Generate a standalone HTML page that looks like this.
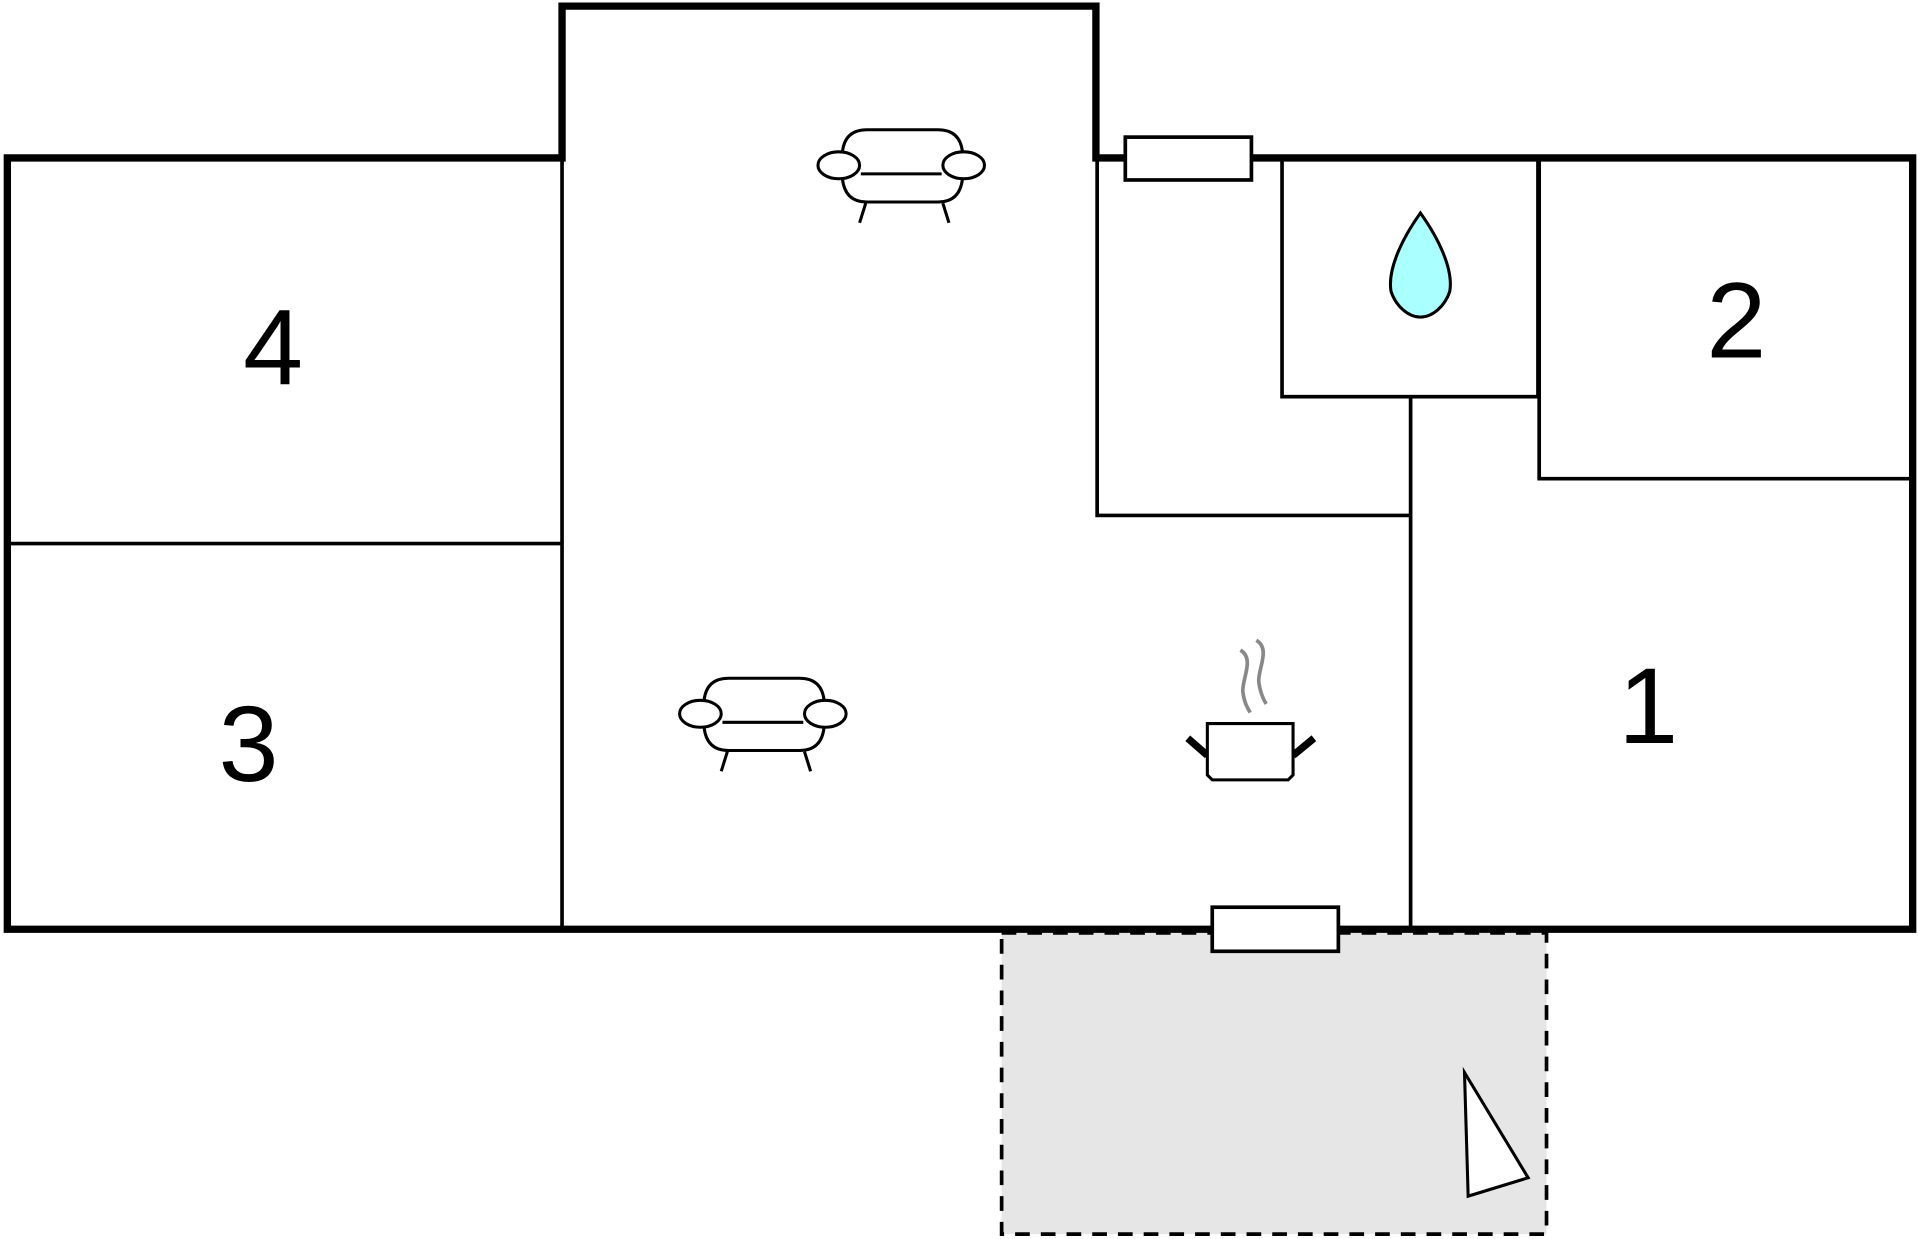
<!DOCTYPE html>
<html><head><meta charset="utf-8"><style>
html,body{margin:0;padding:0;background:#fff;width:1920px;height:1239px;overflow:hidden}
svg{display:block}
text{font-family:"Liberation Sans",Arial,sans-serif;font-size:88px;fill:#000}
</style></head><body>
<svg width="1920" height="1239" viewBox="0 0 1568 1012" preserveAspectRatio="none">
<rect x="0" y="0" width="1568" height="1012" fill="#fff"/>
<rect x="818" y="762" width="445" height="246" fill="#e6e6e6" stroke="#000" stroke-width="3" stroke-dasharray="12,9"/>
<g stroke="#000" stroke-width="3" fill="none">
<line x1="459" y1="129" x2="459" y2="759"/>
<line x1="6" y1="444" x2="459" y2="444"/>
<polyline points="896,129 896,421 1151,421"/>
<line x1="1152" y1="324" x2="1152" y2="759"/>
<rect x="1047" y="129" width="209" height="195"/>
<polyline points="1257,129 1257,391 1562,391"/>
</g>
<path d="M6,129 H459 V5 H895 V129 H919 M1022,129 H1562 V759 H6 V129" stroke="#000" stroke-width="6" fill="none" stroke-linecap="square"/>
<rect x="919" y="112" width="103" height="35" fill="#fff" stroke="#000" stroke-width="3"/>
<rect x="990" y="741" width="103" height="36" fill="#fff" stroke="#000" stroke-width="3"/>
<text x="223" y="314" text-anchor="middle">4</text>
<text x="203" y="638" text-anchor="middle">3</text>
<text x="1418" y="292" text-anchor="middle">2</text>
<text x="1346" y="607" text-anchor="middle">1</text>
<defs>
<g id="sofa" stroke="#000" stroke-width="2.5" fill="#fff">
<path d="M688,135 V124 Q690,106 708,106 H766 Q784,106 786,124 V146 Q784,165 766,165 H708 Q690,165 688,146 Z"/>
<line x1="703" y1="142" x2="769" y2="142"/>
<ellipse cx="685" cy="135" rx="17" ry="11"/>
<ellipse cx="787" cy="135" rx="17" ry="11"/>
<line x1="707" y1="166" x2="702" y2="182"/>
<line x1="770" y1="166" x2="775" y2="182"/>
</g>
</defs>
<use href="#sofa"/>
<use href="#sofa" transform="translate(-113,448)"/>
<path d="M1160,174 C1145,195 1133,220 1136,238 C1140,250 1150,259 1160,259 C1170,259 1180,250 1184,238 C1187,220 1175,195 1160,174 Z" fill="#aaffff" stroke="#000" stroke-width="2.5"/>
<g stroke="#000">
<path d="M986,617 L970,603" stroke-width="6"/>
<path d="M1056,617 L1073,603" stroke-width="6"/>
<path d="M986,591 H1056 V633 L1052,637 H990 L986,633 Z" fill="#fff" stroke-width="2.5"/>
</g>
<g stroke="#888" stroke-width="3" fill="none">
<path d="M1013,531 C1025,538 1014,555 1015,565 C1016,573 1018,577 1021,582"/>
<path d="M1026,523 C1038,530 1027,547 1028,557 C1029,565 1031,570 1034,575"/>
</g>
<polygon points="1196,876 1199,977 1248,962" fill="#fff" stroke="#000" stroke-width="2.5"/>
</svg>
</body></html>
